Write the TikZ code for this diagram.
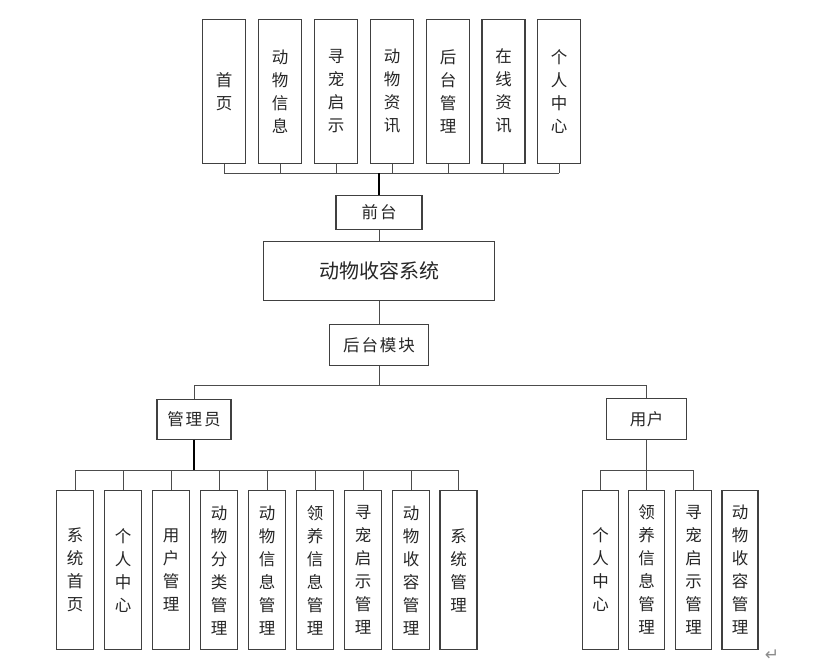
\documentclass[tikz,border=0pt]{standalone}
\usepackage{fontspec}
\newfontfamily\cjk{Noto Sans CJK SC}
\newfontfamily\dejavu{DejaVu Sans}
\begin{document}
\begin{tikzpicture}[x=1pt,y=-1pt]
\tikzset{
  box/.style={draw=black!75, line width=1.1pt, fill=white, inner sep=0pt, text=black!85},
  vbox/.style={box, font=\cjk\fontsize{16.5}{23}\selectfont, align=center},
  hbox/.style={box, font=\cjk\fontsize{16.5}{19}\selectfont},
  conn/.style={draw=black!70, line width=1pt},
  thickconn/.style={draw=black, line width=2.2pt},
}
\useasboundingbox (0,0) rectangle (827,668);
\fill[white] (0,0) rectangle (827,668);

% top row
\node[vbox, minimum width=43pt, minimum height=144pt] (t1) at (224,91.3) {首\\页};
\node[vbox, minimum width=43pt, minimum height=144pt] (t2) at (280,91.3) {动\\物\\信\\息};
\node[vbox, minimum width=43pt, minimum height=144pt] (t3) at (336,91.3) {寻\\宠\\启\\示};
\node[vbox, minimum width=43pt, minimum height=144pt] (t4) at (392,91.3) {动\\物\\资\\讯};
\node[vbox, minimum width=43pt, minimum height=144pt] (t5) at (448,91.3) {后\\台\\管\\理};
\node[vbox, minimum width=43pt, minimum height=144pt] (t6) at (503.5,91.3) {在\\线\\资\\讯};
\node[vbox, minimum width=43pt, minimum height=144pt] (t7) at (559,91.3) {个\\人\\中\\心};

\node[hbox, minimum width=86pt, minimum height=34pt] (qian) at (379,212.3) {前\hspace{2pt}台};
\node[box, font=\cjk\fontsize{20}{22}\selectfont, minimum width=231pt, minimum height=59pt] (sys) at (379,271.3) {动物收容系统};
\node[hbox, minimum width=99pt, minimum height=41pt] (hou) at (379,345.3) {后\hspace{2pt}台\hspace{2pt}模\hspace{2pt}块};
\node[hbox, minimum width=74pt, minimum height=40pt] (admin) at (194,419.2) {管\hspace{2pt}理\hspace{2pt}员};
\node[hbox, minimum width=80pt, minimum height=41pt] (user) at (646.5,419.3) {用\hspace{0.5pt}户};

% admin children
\node[vbox, minimum width=37pt, minimum height=159pt] (a1) at (75,570.3) {系\\统\\首\\页};
\node[vbox, minimum width=37pt, minimum height=159pt] (a2) at (123,570.3) {个\\人\\中\\心};
\node[vbox, minimum width=37pt, minimum height=159pt] (a3) at (171,570.3) {用\\户\\管\\理};
\node[vbox, minimum width=37pt, minimum height=159pt] (a4) at (219,570.3) {动\\物\\分\\类\\管\\理};
\node[vbox, minimum width=37pt, minimum height=159pt] (a5) at (267,570.3) {动\\物\\信\\息\\管\\理};
\node[vbox, minimum width=37pt, minimum height=159pt] (a6) at (315,570.3) {领\\养\\信\\息\\管\\理};
\node[vbox, minimum width=37pt, minimum height=159pt] (a7) at (363,570.3) {寻\\宠\\启\\示\\管\\理};
\node[vbox, minimum width=37pt, minimum height=159pt] (a8) at (411,570.3) {动\\物\\收\\容\\管\\理};
\node[vbox, minimum width=37pt, minimum height=159pt] (a9) at (458.5,570.3) {系\\统\\管\\理};

% user children
\node[vbox, minimum width=36pt, minimum height=159pt] (u1) at (600.7,569.7) {个\\人\\中\\心};
\node[vbox, minimum width=36pt, minimum height=159pt] (u2) at (646.5,569.7) {领\\养\\信\\息\\管\\理};
\node[vbox, minimum width=36pt, minimum height=159pt] (u3) at (693.5,569.7) {寻\\宠\\启\\示\\管\\理};
\node[vbox, minimum width=36pt, minimum height=159pt] (u4) at (740,569.7) {动\\物\\收\\容\\管\\理};

% bus coordinates
\coordinate (b1) at (379,173.3);
\coordinate (b2) at (379,385.7);
\coordinate (b3) at (194,470.3);
\coordinate (b4) at (646.5,470.3);

% top connectors
\foreach \i in {1,...,7} { \draw[conn] (t\i.south) -- (t\i.south |- b1); }
\draw[conn] (t1.south |- b1) -- (t7.south |- b1);
\draw[thickconn] (b1) -- (qian.north);
\draw[conn] (qian.south) -- (sys.north);
\draw[conn] (sys.south) -- (hou.north);
\draw[conn] (hou.south) -- (b2);
\draw[conn] (admin.north) |- (b2) -| (user.north);

% admin connectors
\draw[thickconn] (admin.south) -- (b3);
\foreach \i in {1,...,9} { \draw[conn] (a\i.north) -- (a\i.north |- b3); }
\draw[conn] (a1.north |- b3) -- (a9.north |- b3);

% user connectors
\draw[conn] (user.south) -- (u2.north);
\draw[conn] (u1.north) |- (b4) -| (u3.north);

% paragraph mark
\node[font=\dejavu\fontsize{17}{18}\selectfont, text=black!45, inner sep=0pt] (pm) at (772,655) {↵};
\end{tikzpicture}
\end{document}
